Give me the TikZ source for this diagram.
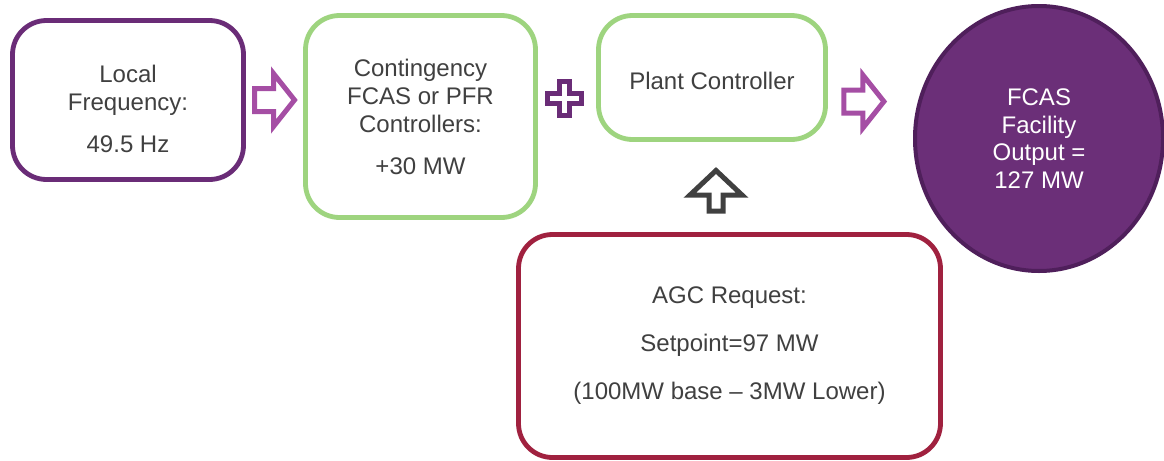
\documentclass[tikz,border=0pt]{standalone}
\usepackage{fontspec}
\setmainfont{Liberation Sans}
\usetikzlibrary{shapes.geometric, positioning, calc}

\definecolor{freqpurple}{HTML}{6A2C77}
\definecolor{ctrlgreen}{HTML}{9ED47F}
\definecolor{agcred}{HTML}{A0213F}
\definecolor{arrowpink}{HTML}{A54EA4}
\definecolor{textgray}{HTML}{404040}
\definecolor{outfill}{HTML}{6B2F78}
\definecolor{outline}{HTML}{4F1F5B}

\tikzset{
  box/.style={draw, line width=2.4pt, rounded corners=17pt, fill=white,
    align=center, text=textgray, inner sep=0pt,
    font=\fontsize{12}{14}\selectfont},
  rarrow/.pic={
    \draw[line width=2.5pt, arrowpink, line join=miter]
      (-20,-11.5) -- (-1,-11.5) -- (-1,-26.5) -- (20,0) -- (-1,26.5)
      -- (-1,11.5) -- (-20,11.5) -- cycle;
  },
  uarrow/.pic={
    \draw[line width=2.5pt, textgray, line join=miter]
      (-7,20) -- (-7,4) -- (-26,4) -- (0,-20.5) -- (26,4) -- (7,4)
      -- (7,20) -- cycle;
  },
  plussign/.pic={
    \draw[line width=2.5pt, freqpurple, line join=miter]
      (-5,-17) -- (5,-17) -- (5,-5) -- (17,-5) -- (17,5) -- (5,5)
      -- (5,17) -- (-5,17) -- (-5,5) -- (-17,5) -- (-17,-5) -- (-5,-5) -- cycle;
  }
}

\begin{document}
\begin{tikzpicture}[x=0.5pt,y=-0.5pt]
  \useasboundingbox (0,0) rectangle (1164,461);

  % input and controller boxes
  \node[box, draw=freqpurple, minimum width=115.5pt, minimum height=79.5pt]
    (freq) at (128,100) {\rule{0pt}{17.5pt}Local\\Frequency:\\[7pt]49.5 Hz};
  \node[box, draw=ctrlgreen, minimum width=115pt, minimum height=101pt]
    (cont) at (420.5,116.5) {Contingency\\FCAS or PFR\\Controllers:\\[7pt]+30 MW};
  \node[box, draw=ctrlgreen, minimum width=113.5pt, minimum height=62pt]
    (plant) at (712,77.5) {\rule{0pt}{11.8pt}Plant Controller};
  \node[box, draw=agcred, minimum width=211pt, minimum height=111.5pt]
    (agc) at (729.5,346) {AGC Request:\\[10pt]Setpoint=97 MW\\[10pt](100MW base -- 3MW Lower)};

  % facility output
  \node[ellipse, draw=outline, fill=outfill, line width=2pt,
    minimum width=124pt, minimum height=132.5pt, inner sep=0pt,
    align=center, text=white, font=\fontsize{12}{13.8}\selectfont]
    (out) at (1039,138.5) {FCAS\\Facility\\Output =\\127 MW};

  % block arrows
  \pic at ($(freq.east)!0.5!(cont.west|-freq.east)$) {rarrow};
  \pic at ($(cont.east)!0.5!(plant.west)+(-3,1)$) {plussign};
  \pic at ($(plant.east)+(36,24)$) {rarrow};
  \pic at ($(plant.south)!0.5!(plant.south|-agc.north)+(4,4)$) {uarrow};
\end{tikzpicture}
\end{document}
